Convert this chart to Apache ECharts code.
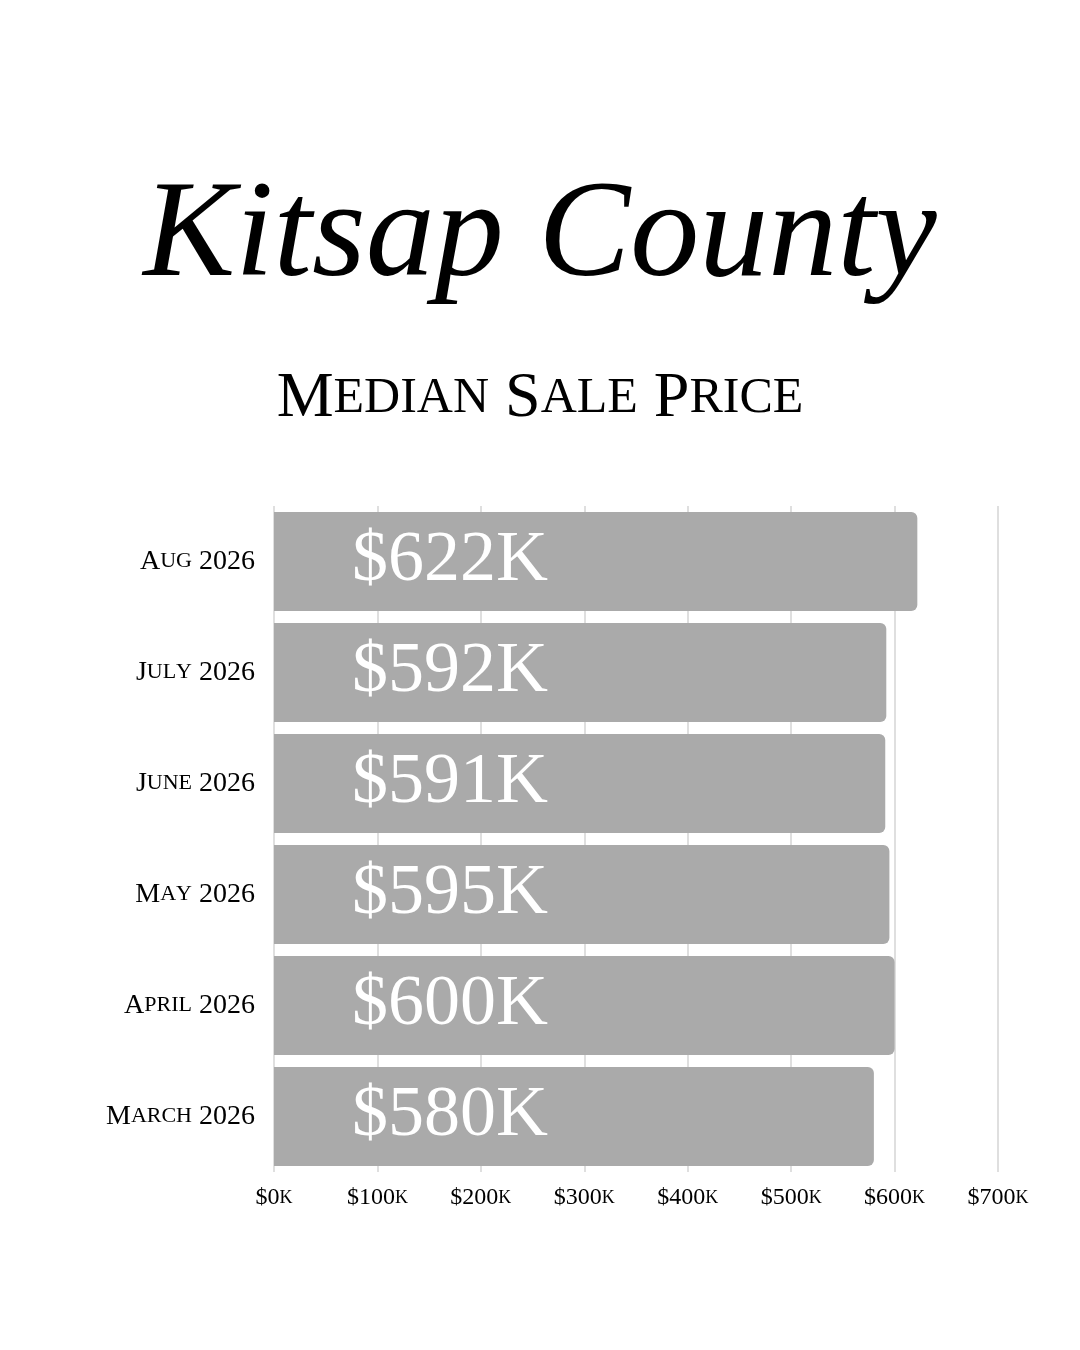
<!DOCTYPE html>
<html><head><meta charset="utf-8">
<script src="https://cdn.jsdelivr.net/npm/echarts@6/dist/echarts.min.js"></script>
<style>html,body{margin:0;padding:0;background:#fff}#c{width:1080px;height:1350px}</style>
</head><body><div id="c"></div>
<script>
const categories = ['Aug 2026','July 2026','June 2026','May 2026','April 2026','March 2026'];
const values = [622,592,591,595,600,580];
const valueLabels = ['$622K','$592K','$591K','$595K','$600K','$580K'];
const tickLabels = ['$0k','$100k','$200k','$300k','$400k','$500k','$600k','$700k'];

function smallCaps(str){
  return str.split(' ').map(w=>{
    let out='';
    for(let i=0;i<w.length;i++){
      const ch=w[i];
      if(/[a-z]/.test(ch)) out+='{s|'+ch.toUpperCase()+'}';
      else out+='{b|'+ch+'}';
    }
    return out;
  }).join('{b| }');
}
const serif = '"Liberation Serif", "DejaVu Serif", serif';

const chart = echarts.init(document.getElementById('c'));
chart.setOption({
  backgroundColor:'#ffffff',
  animation:false,
  title:[{
    text:'Kitsap County',
    left:'center', top:165,
    textStyle:{fontFamily:serif, fontStyle:'italic', fontSize:138, fontWeight:'normal', color:'#000'}
  },{
    text:smallCaps('Median Sale Price'),
    left:'center', top:362,
    textStyle:{
      fontWeight:'normal',
      rich:{
        b:{fontFamily:serif, fontSize:64, fontWeight:'normal', color:'#000'},
        s:{fontFamily:serif, fontSize:50, fontWeight:'normal', color:'#000'}
      }
    }
  }],
  grid:{left:274, right:82, top:506, bottom:178, containLabel:false},
  xAxis:{
    type:'value', min:0, max:700, interval:100,
    axisLine:{show:false}, axisTick:{show:false},
    splitLine:{show:true, lineStyle:{color:'#d4d4d4', width:1.5}},
    axisLabel:{
      margin:14,
      formatter:(v)=>smallCaps(tickLabels[Math.round(v/100)]),
      rich:{
        b:{fontFamily:serif, fontSize:24, color:'#000'},
        s:{fontFamily:serif, fontSize:18, color:'#000'}
      }
    }
  },
  yAxis:{
    type:'category', data:categories, inverse:true,
    axisLine:{show:false}, axisTick:{show:false},
    axisLabel:{
      margin:19,
      formatter:(v)=>smallCaps(v),
      rich:{
        b:{fontFamily:serif, fontSize:28, color:'#000'},
        s:{fontFamily:serif, fontSize:22, color:'#000'}
      }
    }
  },
  series:[{
    type:'bar',
    data:values,
    barCategoryGap:'10.8%',
    itemStyle:{color:'#aaaaaa', borderRadius:[0,6,6,0]},
    label:{
      show:true,
      position:[176,'50%'],
      align:'center', verticalAlign:'middle',
      formatter:(p)=>valueLabels[p.dataIndex],
      fontFamily:serif, fontSize:72, color:'#ffffff'
    }
  }]
});
</script></body></html>
